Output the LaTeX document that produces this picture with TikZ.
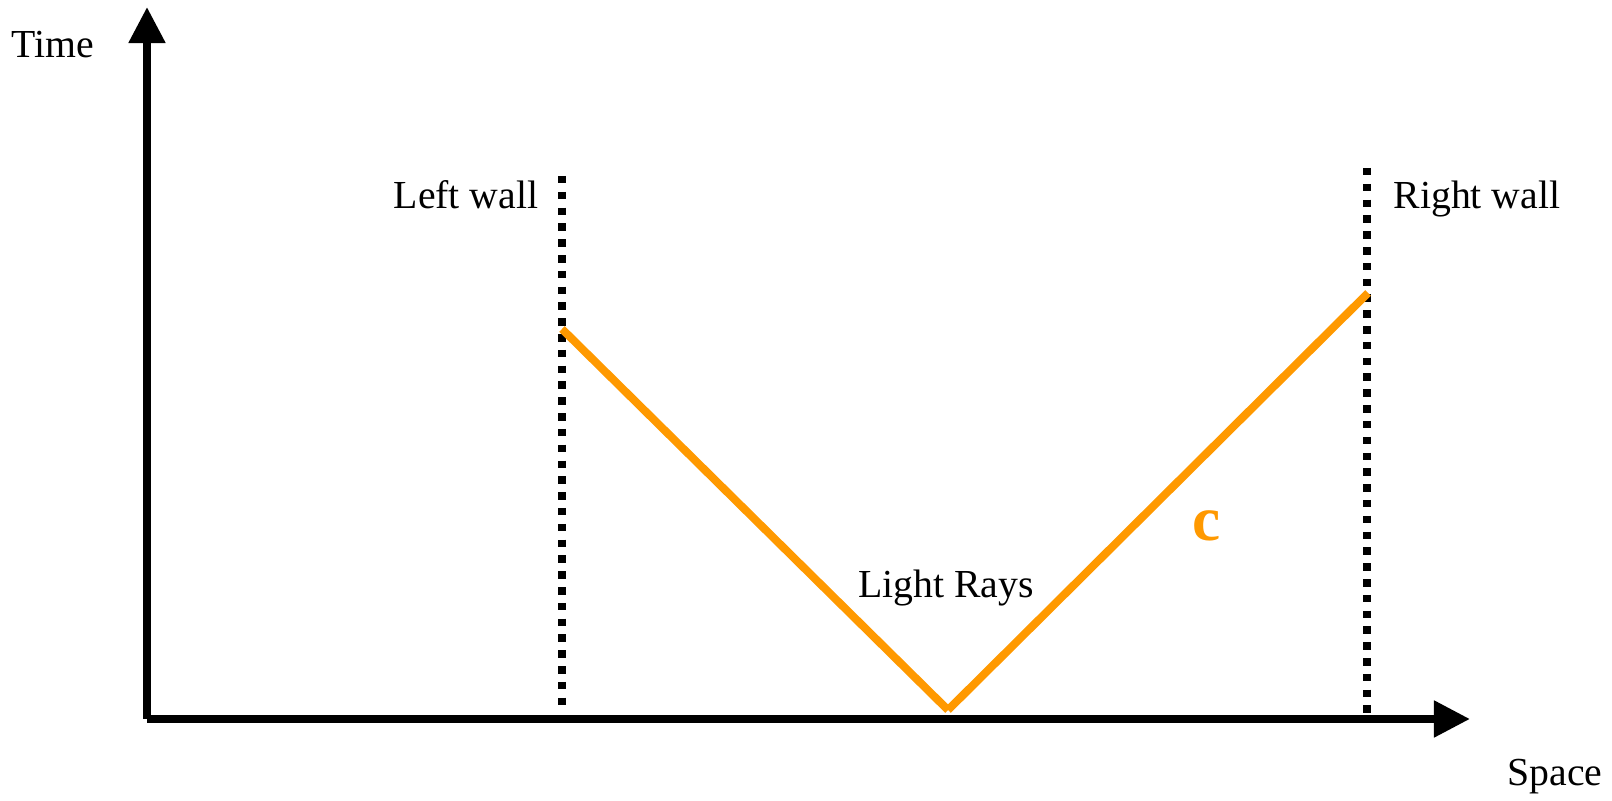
\documentclass[tikz,border=0pt]{standalone}
\usepackage{fontspec}
\setmainfont{Liberation Serif}
\usetikzlibrary{arrows.meta}
\definecolor{rayorange}{RGB}{255,153,0}

\begin{document}
\begin{tikzpicture}[
  x=0.01cm, y=-0.01cm,
  every node/.style={font=\fontsize{11.3}{13.5}\selectfont,inner sep=0pt,anchor=base},
  axis/.style={line width=0.08cm,-{Triangle[length=0.36cm,width=0.35cm]}},
  wall/.style={line width=0.08cm,dash pattern=on 0.075cm off 0.083cm},
  ray/.style={draw=rayorange,line width=0.08cm}
]
\useasboundingbox (0,0) rectangle (1612,801);

% axes
\coordinate (origin) at (147,719);
\coordinate (timeend) at (147,7);
\coordinate (spaceend) at (1470,719);
\draw[axis] (origin) -- (timeend);
\draw[axis] (origin) -- (spaceend);
\node (time) at (53,58) {Time};
\node (space) at (1555,786) {Space};

% walls
\coordinate (lefttop) at (562,176);
\coordinate (leftfoot) at (562,708);
\coordinate (righttop) at (1367,168);
\coordinate (rightfoot) at (1367,715);
\draw[wall] (lefttop) -- (leftfoot);
\draw[wall] (righttop) -- (rightfoot);
\node (leftwall) at (466,209) {Left wall};
\node (rightwall) at (1477,209) {Right wall};

% light rays
\coordinate (lefthit) at (562,329);
\coordinate (floor) at (948,710);
\coordinate (righthit) at (1368,293);
\draw[ray] (lefthit) -- (floor);
\draw[ray] (floor) -- (righthit);
\node (rays) at (946,598) {Light Rays};
\node[font=\fontsize{18}{20}\selectfont\bfseries,text=rayorange] (speed) at (1207,541) {c};
\end{tikzpicture}
\end{document}
